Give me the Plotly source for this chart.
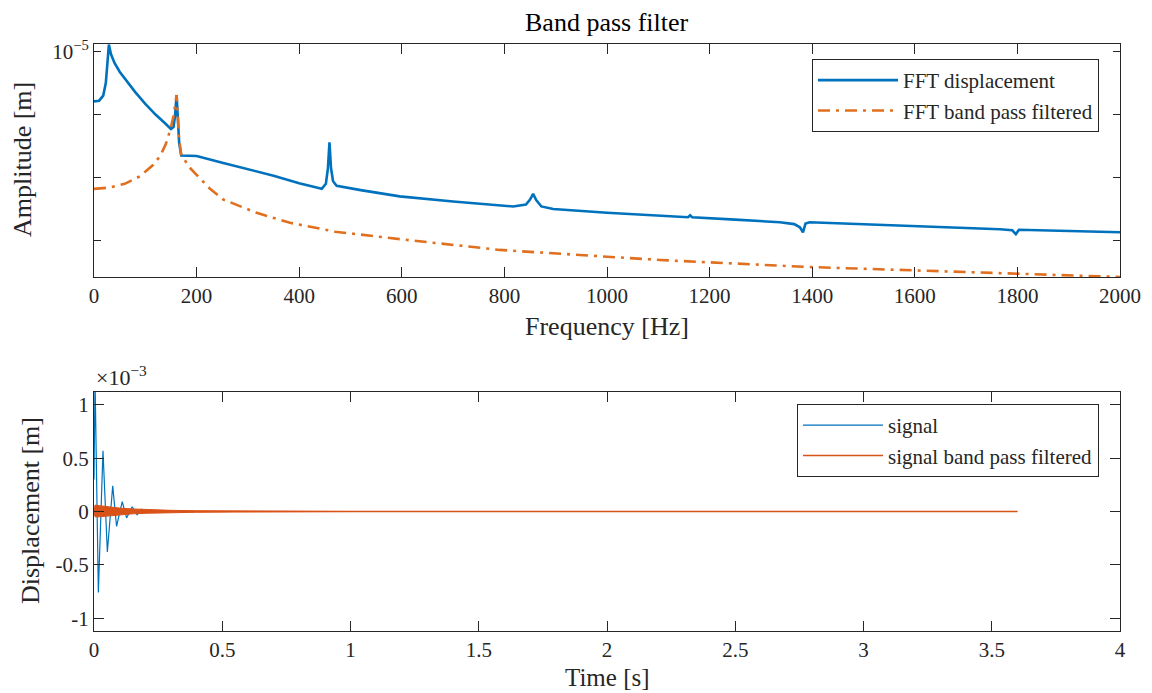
import plotly.graph_objects as go

# ---------------- data ----------------
# FFT of the displacement signal
freq_fft = [0, 10, 18, 23, 26, 29, 33, 40, 50, 65, 80, 100, 120, 140, 150, 155, 158, 161, 163, 166,
            170, 185, 200, 252, 300, 350, 400, 444, 452, 456, 459, 462, 466, 473, 520, 596, 700,
            817, 842, 850, 856, 862, 872, 895, 1000, 1103, 1158, 1162, 1166, 1250, 1337, 1365,
            1376, 1382, 1387, 1395, 1600, 1766, 1790, 1797, 1803, 2000]
amp_fft = [1.62e-6, 1.66e-6, 2.00e-6, 3.16e-6, 6.31e-6, 1.29e-5, 9.12e-6, 6.61e-6, 4.79e-6, 3.24e-6,
           2.29e-6, 1.48e-6, 1.00e-6, 7.08e-7, 5.89e-7, 6.31e-7, 9.55e-7, 2.04e-6, 1.00e-6, 3.55e-7,
           2.24e-7, 2.24e-7, 2.19e-7, 1.70e-7, 1.35e-7, 1.07e-7, 8.13e-8, 6.61e-8, 7.94e-8, 1.41e-7,
           3.63e-7, 1.41e-7, 8.71e-8, 7.41e-8, 6.31e-8, 5.01e-8, 4.17e-8, 3.47e-8, 3.72e-8, 4.47e-8,
           5.50e-8, 4.37e-8, 3.47e-8, 3.16e-8, 2.75e-8, 2.45e-8, 2.34e-8, 2.51e-8, 2.34e-8, 2.14e-8,
           1.95e-8, 1.82e-8, 1.62e-8, 1.35e-8, 1.86e-8, 1.95e-8, 1.70e-8, 1.51e-8, 1.45e-8, 1.26e-8,
           1.48e-8, 1.35e-8]

# FFT of the band pass filtered signal
freq_bp = [0, 30, 60, 90, 115, 129, 140, 148, 155, 159, 161, 163, 166, 170, 185, 200, 225, 252,
           317, 382, 470, 596, 791, 986, 1103, 1390, 1800, 2000]
amp_bp = [6.61e-8, 6.92e-8, 7.94e-8, 1.05e-7, 1.58e-7, 2.19e-7, 3.39e-7, 5.50e-7, 9.33e-7, 1.51e-6,
          2.04e-6, 1.12e-6, 3.98e-7, 2.34e-7, 1.48e-7, 1.10e-7, 6.76e-8, 4.47e-8, 2.75e-8, 1.91e-8,
          1.38e-8, 1.05e-8, 7.08e-9, 5.62e-9, 4.90e-9, 3.80e-9, 2.95e-9, 2.63e-9]

# time signal (extrema), displacement in 1e-3 m
t_signal = [0, 0.004, 0.017, 0.035, 0.052, 0.073, 0.088, 0.110, 0.127, 0.149, 0.168, 0.186,
            0.205, 0.223, 0.242, 0.26, 0.3, 3.6]
disp_signal_e3 = [0.3, 1.25, -0.76, 0.57, -0.38, 0.24, -0.14, 0.093, -0.06, 0.045, -0.03, 0.02,
                  -0.013, 0.008, -0.005, 0.003, 0.0, 0.0]

# envelope of the band pass filtered signal (dense 160 Hz oscillation), 1e-3 m
t_bp_env = [0, 0.004, 0.02, 0.05, 0.1, 0.15, 0.2, 0.3, 0.4, 0.55, 0.75, 1.0]
bp_upper_e3 = [0, 0.060, 0.055, 0.045, 0.032, 0.024, 0.018, 0.011, 0.007, 0.004, 0.002, 0.0]
bp_lower_e3 = [0, -0.050, -0.050, -0.042, -0.030, -0.022, -0.017, -0.010, -0.007, -0.004, -0.002, 0.0]
t_bp_line = [0, 3.6]
bp_line_e3 = [0.0, 0.0]

freq_ticks = [0, 200, 400, 600, 800, 1000, 1200, 1400, 1600, 1800, 2000]
amp_ticks = [1e-5]
amp_ticktext = ["10<sup>\u22125</sup>"]
amp_minor_ticks = [1e-6, 1e-7, 1e-8]
time_ticks = [0, 0.5, 1, 1.5, 2, 2.5, 3, 3.5, 4]
time_ticktext = ["0", "0.5", "1", "1.5", "2", "2.5", "3", "3.5", "4"]
disp_ticks_e3 = [-1, -0.5, 0, 0.5, 1]
disp_ticktext = ["-1", "-0.5", "0", "0.5", "1"]

# ---------------- figure ----------------
BLUE = "#0072BD"
ORANGE = "#D95319"
ORANGE_TOP = "#E0701F"
AX = "#262626"
FONT = "Liberation Serif"
W, H = 1152, 693

fig = go.Figure()

fig.add_trace(go.Scatter(x=freq_fft, y=amp_fft, mode="lines", name="FFT displacement",
                         line=dict(color=BLUE, width=2.6), xaxis="x", yaxis="y", legend="legend"))
fig.add_trace(go.Scatter(x=freq_bp, y=amp_bp, mode="lines", name="FFT band pass filtered",
                         line=dict(color=ORANGE_TOP, width=2.6, dash="12px,6px,3px,6px"),
                         xaxis="x", yaxis="y", legend="legend"))

sc = 1e-3
fig.add_trace(go.Scatter(x=t_signal, y=[v * sc for v in disp_signal_e3], mode="lines", name="signal",
                         line=dict(color=BLUE, width=1.2), xaxis="x2", yaxis="y2", legend="legend2"))
fig.add_trace(go.Scatter(x=t_bp_env, y=[v * sc for v in bp_upper_e3], mode="lines",
                         line=dict(color=ORANGE, width=1), showlegend=False, hoverinfo="skip",
                         xaxis="x2", yaxis="y2", legend="legend2"))
fig.add_trace(go.Scatter(x=t_bp_env, y=[v * sc for v in bp_lower_e3], mode="lines", fill="tonexty",
                         fillcolor=ORANGE, line=dict(color=ORANGE, width=1), showlegend=False,
                         hoverinfo="skip", xaxis="x2", yaxis="y2", legend="legend2"))
fig.add_trace(go.Scatter(x=t_bp_line, y=[v * sc for v in bp_line_e3], mode="lines",
                         name="signal band pass filtered", line=dict(color=ORANGE, width=1.5),
                         xaxis="x2", yaxis="y2", legend="legend2"))

x0, x1 = 94 / W, 1120 / W
top_dom = [(H - 277) / H, (H - 44) / H]
bot_dom = [(H - 631) / H, (H - 392) / H]

common = dict(showline=True, linecolor=AX, linewidth=1, mirror="ticks", ticks="inside",
              tickcolor=AX, tickwidth=1, showgrid=False, zeroline=False, automargin=False,
              tickfont=dict(family=FONT, size=21, color=AX))

leg_common = dict(xanchor="right", yanchor="top", bgcolor="white", bordercolor=AX, borderwidth=1,
                  itemwidth=80, tracegroupgap=0, traceorder="normal",
                  font=dict(family=FONT, size=21, color=AX))

fig.update_layout(
    width=W, height=H, margin=dict(l=0, r=0, t=0, b=0, autoexpand=False),
    paper_bgcolor="white", plot_bgcolor="white",
    font=dict(family=FONT, color=AX),
    xaxis=dict(domain=[x0, x1], anchor="y", range=[0, 2000], tickvals=freq_ticks, ticklen=10, **common),
    yaxis=dict(domain=top_dom, anchor="x", type="log", range=[-8.58, -4.88], tickvals=amp_ticks,
               ticktext=amp_ticktext, ticklen=7,
               minor=dict(tickmode="array", tickvals=amp_minor_ticks, ticks="inside", ticklen=7,
                          tickcolor=AX, tickwidth=1, showgrid=False),
               **common),
    xaxis2=dict(domain=[x0, x1], anchor="y2", range=[0, 4], tickvals=time_ticks,
                ticktext=time_ticktext, ticklen=10, **common),
    yaxis2=dict(domain=bot_dom, anchor="x2", range=[-1.12e-3, 1.12e-3],
                tickvals=[v * sc for v in disp_ticks_e3], ticktext=disp_ticktext, ticklen=10, **common),
    legend=dict(x=1099 / W, y=(H - 59) / H, **leg_common),
    legend2=dict(x=1099 / W, y=(H - 404) / H, **leg_common),
    annotations=[
        dict(text="Band pass filter", x=(x0 + x1) / 2, y=(H - 22) / H, xref="paper", yref="paper",
             showarrow=False, font=dict(family=FONT, size=26, color="black"), yanchor="middle"),
        dict(text="Frequency [Hz]", x=(x0 + x1) / 2, y=(H - 326) / H, xref="paper", yref="paper",
             showarrow=False, font=dict(family=FONT, size=26, color=AX), yanchor="middle"),
        dict(text="Time [s]", x=(x0 + x1) / 2, y=(H - 677) / H, xref="paper", yref="paper",
             showarrow=False, font=dict(family=FONT, size=25, color=AX), yanchor="middle"),
        dict(text="Amplitude [m]", x=22 / W, y=(H - 160) / H, xref="paper", yref="paper",
             showarrow=False, textangle=-90, font=dict(family=FONT, size=26, color=AX),
             xanchor="center", yanchor="middle"),
        dict(text="Displacement [m]", x=30 / W, y=(H - 511) / H, xref="paper", yref="paper",
             showarrow=False, textangle=-90, font=dict(family=FONT, size=26, color=AX),
             xanchor="center", yanchor="middle"),
        dict(text="\u00d710<sup>\u22123</sup>", x=94 / W, y=(H - 376) / H, xref="paper", yref="paper",
             showarrow=False, xanchor="left", yanchor="middle",
             font=dict(family=FONT, size=22, color=AX)),
    ],
)

fig.write_html("out.html")
